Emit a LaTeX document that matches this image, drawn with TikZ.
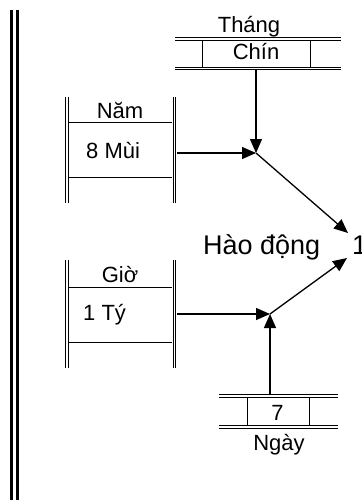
\documentclass[tikz,border=0pt]{standalone}
\usepackage{fontspec}
\setmainfont{Liberation Sans}
\usepackage{tikz}
\usetikzlibrary{arrows.meta}

\begin{document}
\begin{tikzpicture}[x=1pt,y=-1pt,
    flow/.style={-{Triangle[length=14pt,width=12pt]}, line width=1.3pt},
    rail/.style={double, double distance=1.4pt, line width=0.9pt},
    label/.style={font=\fontsize{22}{22}\selectfont, inner sep=0pt, anchor=base}]
  \useasboundingbox (0,0) rectangle (361,500);

  % Left border
  \draw[line width=3pt] (11.5,10) -- (11.5,500);
  \draw[line width=3pt] (17.5,10) -- (17.5,500);

  % Store: Thang
  \draw[rail] (175,39) -- (341,39);
  \draw[rail] (175,68.5) -- (341,68.5);
  \draw[line width=0.9pt] (202,40) -- (202,68) (310,40) -- (310,68);
  \node[label] (thang) at (249,33) {Tháng};
  \node[label] (chin) at (256,60) {Chín};
  \coordinate (thangout) at (256,70);

  % Entity: Nam
  \draw[rail] (67,97) -- (67,203);
  \draw[rail] (174.5,97) -- (174.5,203);
  \draw (69,122) -- (172,122) (69,177) -- (172,177);
  \node[label] (nam) at (120,118) {Năm};
  \node[label, anchor=base west] (mui) at (86,158) {8 Mùi};
  \coordinate (namout) at (177,153);

  % Entity: Gio
  \draw[rail] (67,260) -- (67,368);
  \draw[rail] (174.5,260) -- (174.5,368);
  \draw (69,287) -- (172,287) (69,342) -- (172,342);
  \node[label] (gio) at (120,282) {Giờ};
  \node[label, anchor=base west] (ty) at (83,320) {1 Tý};
  \coordinate (gioout) at (177,314);

  % Store: Ngay
  \draw[rail] (219,396) -- (338,396);
  \draw[rail] (219,427) -- (338,427);
  \draw[line width=0.9pt] (247,397) -- (247,426) (309,397) -- (309,426);
  \node[label] (bay) at (277.5,420) {7};
  \node[label] (ngay) at (279,450) {Ngày};
  \coordinate (ngayout) at (270,395);

  % Result
  \node[label, anchor=base west, font=\fontsize{27}{27}\selectfont] (haodong) at (203,254) {Hào động};
  \node[label, anchor=base west, font=\fontsize{27}{27}\selectfont] (mot) at (352,254) {1};

  % Junctions
  \coordinate (j1) at (256,153);
  \coordinate (j2) at (270,314);
  \coordinate (tip1) at (348,233);
  \coordinate (tip2) at (347,258);

  % Flows
  \draw[flow] (thangout) -- (j1);
  \draw[flow] (namout) -- (j1);
  \draw[flow] (j1) -- (tip1);
  \draw[flow] (gioout) -- (j2);
  \draw[flow] (ngayout) -- (j2);
  \draw[flow] (j2) -- (tip2);
\end{tikzpicture}
\end{document}
